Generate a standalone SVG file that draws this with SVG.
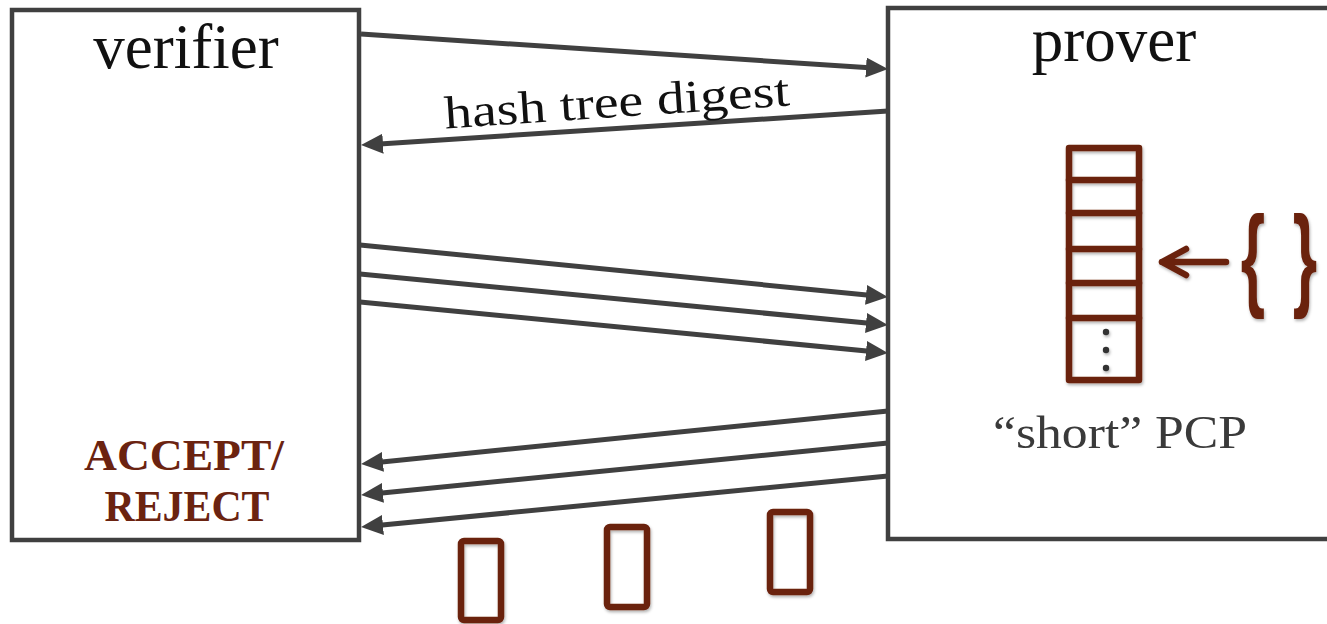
<svg xmlns="http://www.w3.org/2000/svg" width="1327" height="624" viewBox="0 0 1327 624">
<style>
.box{fill:#fff;stroke:#404040;stroke-width:4.5}
.conn{stroke:#404040;stroke-width:5;fill:none}
.brown{fill:none;stroke:#6b2310;stroke-width:6.5;stroke-linejoin:round;stroke-linecap:round}
.title{font-family:"Liberation Serif",serif;font-size:63px;fill:#111;text-anchor:middle}
.lbl{font-family:"Liberation Serif",serif;font-size:46px;fill:#111;text-anchor:middle}
.acc{font-family:"Liberation Serif",serif;font-weight:bold;font-size:44px;fill:#6b2310;text-anchor:middle}
.pcp{font-family:"Liberation Serif",serif;font-size:46px;fill:#3a3a3a;text-anchor:middle}
.brace{font-family:"Liberation Sans",sans-serif;font-weight:bold;font-size:114px;fill:#6b2310;text-anchor:middle}
</style>
<defs>
<marker id="ah" viewBox="0 0 22 20" refX="11" refY="10" markerWidth="22" markerHeight="20" markerUnits="userSpaceOnUse" orient="auto">
<path d="M0,0 L22,10 L0,20 z" fill="#404040"/>
</marker>
<filter id="sh" x="-20%" y="-20%" width="140%" height="140%">
<feDropShadow dx="1" dy="2" stdDeviation="1.5" flood-color="#000" flood-opacity="0.3"/>
</filter>
</defs>
<rect width="1327" height="624" fill="#fff"/>
<g id="verifier">
<rect class="box" x="12" y="10" width="347" height="530"/>
<text class="title" x="186" y="68">verifier</text>
<text class="acc" x="184" y="470" textLength="200" lengthAdjust="spacingAndGlyphs">ACCEPT/</text>
<text class="acc" x="187" y="521" textLength="165" lengthAdjust="spacingAndGlyphs">REJECT</text>
</g>
<g id="prover">
<rect class="box" x="888" y="8" width="500" height="531"/>
<text class="title" x="1114" y="61">prover</text>
<text class="pcp" x="1120" y="448" textLength="254" lengthAdjust="spacingAndGlyphs">“short” PCP</text>
</g>
<g id="pcp-stack" filter="url(#sh)">
<rect class="brown" x="1069" y="148" width="70" height="232"/>
<path class="brown" d="M1069,180 H1139 M1069,213 H1139 M1069,249 H1139 M1069,283 H1139 M1069,318 H1139"/>
<g fill="#333">
<circle cx="1106" cy="332" r="3.2"/>
<circle cx="1106" cy="350" r="3.2"/>
<circle cx="1106" cy="368" r="3.2"/>
</g>
</g>
<g id="set" filter="url(#sh)">
<path class="brown" d="M1226,262 H1162 M1186,249 L1162,262 L1186,275"/>
<text class="brace" transform="translate(1253 295) scale(0.55 1)">{</text>
<text class="brace" transform="translate(1305 295) scale(0.55 1)">}</text>
</g>
<g id="answers" filter="url(#sh)">
<rect class="brown" x="461" y="541" width="40" height="79" rx="3"/>
<rect class="brown" x="607" y="527" width="40" height="80" rx="3"/>
<rect class="brown" x="770" y="512" width="40" height="80" rx="3"/>
</g>
<g id="connectors">
<line class="conn" x1="361" y1="34" x2="877" y2="68.3" marker-end="url(#ah)"/>
<line class="conn" x1="888" y1="111" x2="372" y2="144.4" marker-end="url(#ah)"/>
<line class="conn" x1="360" y1="245" x2="877" y2="296" marker-end="url(#ah)"/>
<line class="conn" x1="360" y1="274" x2="877" y2="324" marker-end="url(#ah)"/>
<line class="conn" x1="360" y1="302" x2="877" y2="352" marker-end="url(#ah)"/>
<line class="conn" x1="888" y1="411" x2="372" y2="463" marker-end="url(#ah)"/>
<line class="conn" x1="888" y1="443" x2="372" y2="494" marker-end="url(#ah)"/>
<line class="conn" x1="888" y1="476" x2="372" y2="526" marker-end="url(#ah)"/>
<text class="lbl" x="617" y="117" transform="rotate(-3.8 617 105)" textLength="346" lengthAdjust="spacingAndGlyphs">hash tree digest</text>
</g>
</svg>
